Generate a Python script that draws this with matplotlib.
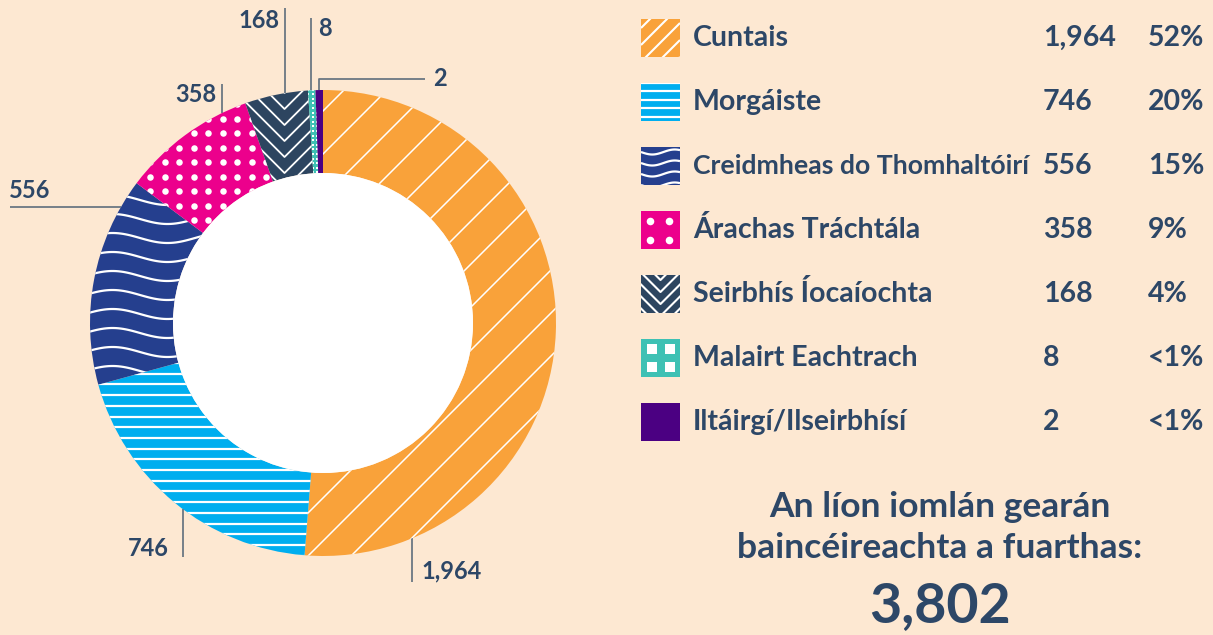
import numpy as np
import matplotlib
matplotlib.use('Agg')
import matplotlib.pyplot as plt
from matplotlib.patches import Rectangle, Circle
from matplotlib.collections import LineCollection

# ---------------- data ----------------
categories = ['Cuntais', 'Morgáiste', 'Creidmheas do Thomhaltóirí', 'Árachas Tráchtála',
              'Seirbhís Íocaíochta', 'Malairt Eachtrach', 'Iltáirgí/Ilseirbhísí']
values = [1964, 746, 556, 358, 168, 8, 2]
value_labels = ['1,964', '746', '556', '358', '168', '8', '2']
percent_labels = ['52%', '20%', '15%', '9%', '4%', '<1%', '<1%']
total_title = ['An líon iomlán gearán', 'baincéireachta a fuarthas:']
total_label = '3,802'

# ---------------- style ----------------
colors = ['#F9A23A', '#00AEEF', '#253F8E', '#EC008C', '#2D4560', '#3EC1B4', '#4B0082']
patterns = ['diag', 'hline', 'wave', 'dots', 'chevron', 'squares', 'solid']
BG = '#FDE8D2'
TXT = '#2D4767'
LINE = '#6B7883'
MIN_ANGLE = 1.85  # degrees: tiny slices are drawn with a minimum visible width

plt.rcParams['font.family'] = ['Lato', 'DejaVu Sans']

W, H = 1213, 635
fig = plt.figure(figsize=(W / 100, H / 100), dpi=100)
fig.patch.set_facecolor(BG)
ax = fig.add_axes([0, 0, 1, 1])
ax.set_facecolor(BG)

cx, cy = 323, H - 323
R, RIN = 233, 150

# display weights with a minimum slice angle
vals = np.array(values, dtype=float)
ang = vals / vals.sum() * 360
small = ang < MIN_ANGLE
disp = np.where(small, MIN_ANGLE, ang * (360 - MIN_ANGLE * small.sum()) / ang[~small].sum())

wedges, _ = ax.pie(disp, radius=R, center=(cx, cy), startangle=90, counterclock=False,
                   colors=colors, wedgeprops=dict(width=R - RIN, linewidth=0))
ax.add_patch(Circle((cx, cy), RIN, facecolor='white', edgecolor='none', zorder=3))
ax.set_xlim(0, W)
ax.set_ylim(0, H)
ax.set_aspect('equal')
ax.axis('off')


def draw_pattern(kind, clip, box, p):
    x0, y0, x1, y1 = box
    arts = []
    if kind == 'diag':
        s = p['s']
        segs = [[(x0, x0 + c), (x1, x1 + c)] for c in np.arange(y0 - x1, y1 - x0 + s, s)]
        arts.append(LineCollection(segs, colors='white', linewidths=p['lw']))
    elif kind == 'hline':
        s = p['s']
        segs = [[(x0, y), (x1, y)] for y in np.arange(y0 + s / 2, y1 + s, s)]
        arts.append(LineCollection(segs, colors='white', linewidths=p['lw']))
    elif kind == 'wave':
        s = p['s']
        xs = np.linspace(x0, x1, 200)
        segs = []
        for y in np.arange(y0 - s, y1 + s, s):
            ys = y + p['amp'] * np.sin(2 * np.pi * (xs - x0) / p['lam'] + p.get('ph', 0))
            segs.append(np.column_stack([xs, ys]))
        arts.append(LineCollection(segs, colors='white', linewidths=p['lw']))
    elif kind == 'dots':
        s = p['s']
        gx, gy = np.meshgrid(np.arange(x0 + p.get('off', s / 2), x1, s),
                             np.arange(y0 + p.get('off', s / 2), y1, s))
        arts.append(ax.scatter(gx.ravel(), gy.ravel(), s=p['ms'], c='white', linewidths=0))
    elif kind == 'squares':
        s = p['s']
        gx, gy = np.meshgrid(np.arange(x0 + p.get('off', s / 2), x1, s),
                             np.arange(y0 + p.get('off', s / 2), y1, s))
        arts.append(ax.scatter(gx.ravel(), gy.ravel(), s=p['ms'], c='white', marker='s',
                               linewidths=0))
    elif kind == 'chevron':
        s = p['s']
        xc = p['xc']
        xs = np.array([x0 - 50, xc, x1 + 50])
        segs = []
        for y in np.arange(y0 - (x1 - x0), y1 + s, s):
            ys = y + np.abs(xs - xc)
            segs.append(np.column_stack([xs, ys]))
        arts.append(LineCollection(segs, colors='white', linewidths=p['lw']))
    for a in arts:
        if isinstance(a, LineCollection):
            ax.add_collection(a)
        a.set_clip_path(clip)
        a.set_zorder(clip.get_zorder() + 0.5)


# wedge patterns
cum = np.concatenate([[0], np.cumsum(disp)])
tot = float(disp.sum())
for i, w in enumerate(wedges):
    mid = 90 - 360 * (cum[i] + cum[i + 1]) / 2 / tot
    xm = cx + (R + RIN) / 2 * np.cos(np.radians(mid))
    box = (cx - R - 5, cy - R - 5, cx + R + 5, cy + R + 5)
    kind = patterns[i]
    params = {
        'diag': dict(s=43, lw=1.1),
        'hline': dict(s=10.7, lw=1.6),
        'wave': dict(s=19, amp=5, lam=110, lw=1.6),
        'dots': dict(s=14.5, ms=22),
        'chevron': dict(s=16, lw=1.3, xc=xm),
        'squares': dict(s=4.6, ms=4.0),
        'solid': None,
    }[kind]
    if params:
        draw_pattern(kind, w, box, params)

# leader lines and value labels
lab_fs = 17
lab_kw = dict(fontsize=lab_fs, color=TXT, fontweight='bold', va='center')


def circ_y(x, top=True):
    d = np.sqrt(R ** 2 - (x - cx) ** 2)
    return cy + d if top else cy - d


ln = dict(color=LINE, lw=1.3, solid_capstyle='butt', zorder=1)
# 1,964
x = 412; ax.plot([x, x], [circ_y(x, False), H - 582], **ln)
ax.text(421, H - 571, value_labels[0], ha='left', **lab_kw)
# 746
x = 183; ax.plot([x, x], [circ_y(x, False), H - 557], **ln)
ax.text(169, H - 548, value_labels[1], ha='right', **lab_kw)
# 556
yl = H - 207
xl = cx - np.sqrt(R ** 2 - (yl - cy) ** 2)
ax.plot([10, xl], [yl, yl], **ln)
ax.text(9, H - 190, value_labels[2], ha='left', **lab_kw)
# 358
x = 222; ax.plot([x, x], [circ_y(x), H - 84], **ln)
ax.text(216, H - 95, value_labels[3], ha='right', **lab_kw)
# 168
x = 285; ax.plot([x, x], [circ_y(x), H - 8], **ln)
ax.text(279, H - 21, value_labels[4], ha='right', **lab_kw)
# 8
x = 311; ax.plot([x, x], [circ_y(x), H - 18], **ln)
ax.text(318, H - 29, value_labels[5], ha='left', **lab_kw)
# 2
x = 319; ax.plot([x, x, 425], [circ_y(x), H - 79, H - 79], **ln)
ax.text(433, H - 79, value_labels[6], ha='left', **lab_kw)

# legend
leg_params = {
    'diag': dict(s=17, lw=1.5),
    'hline': dict(s=8.5, lw=1.6),
    'wave': dict(s=11, amp=2.5, lam=45, lw=1.6, ph=np.pi),
    'dots': dict(s=19, ms=30, off=9),
    'chevron': dict(s=12, lw=1.5),
    'squares': dict(s=18, ms=55, off=10.5),
    'solid': None,
}
row0, dy = 38, 64
fs = 20.5
renderer = fig.canvas.get_renderer()
for i, cat in enumerate(categories):
    yc = H - (row0 + i * dy)
    rect = Rectangle((641, yc - 19), 39, 38, facecolor=colors[i], edgecolor='none', zorder=2)
    ax.add_patch(rect)
    p = leg_params[patterns[i]]
    if p is not None:
        if patterns[i] == 'chevron':
            p = dict(p, xc=660.5)
        draw_pattern(patterns[i], rect, (641, yc - 19, 680, yc + 19), p)
    t = ax.text(693, yc, cat, ha='left', va='center', fontsize=fs, color=TXT, fontweight='bold')
    # shrink a label that would run into the number column
    wpx = t.get_window_extent(renderer).width
    if wpx > 337:
        t.set_fontsize(fs * 337 / wpx)
    ax.text(1043, yc, value_labels[i], ha='left', va='center', fontsize=fs, color=TXT, fontweight='bold')
    ax.text(1148, yc, percent_labels[i], ha='left', va='center', fontsize=fs, color=TXT, fontweight='bold')

# total
ax.text(940, H - 507, total_title[0], ha='center', va='center', fontsize=25.5, color=TXT, fontweight='bold')
ax.text(940, H - 548, total_title[1], ha='center', va='center', fontsize=25.5, color=TXT, fontweight='bold')
ax.text(940, H - 606, total_label, ha='center', va='center', fontsize=40, color=TXT, fontweight='bold')

fig.savefig('out.png', dpi=100, facecolor=BG)
